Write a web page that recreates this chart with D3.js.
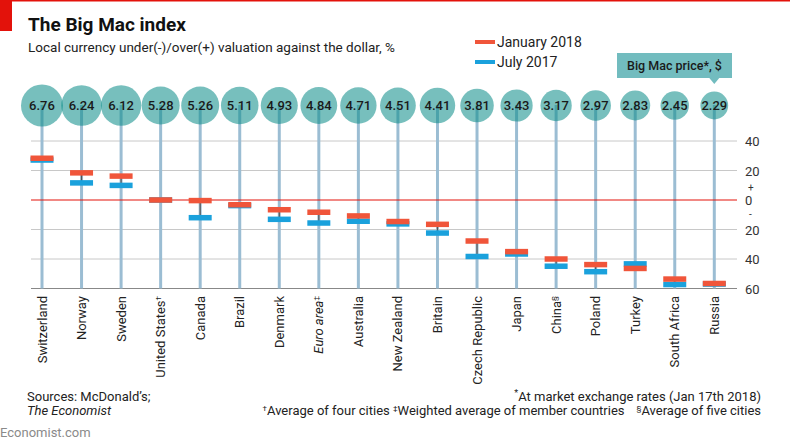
<!DOCTYPE html>
<html><head><meta charset="utf-8">
<script src="https://cdn.jsdelivr.net/npm/d3@7"></script>
<style>
body{margin:0;background:#fff;}
svg{display:block;font-family:Roboto,"Noto Sans",sans-serif;}
</style></head>
<body>
<svg id="chart" width="790" height="445"></svg>
<script>
const countries = ["Switzerland","Norway","Sweden","United States","Canada","Brazil","Denmark","Euro area","Australia","New Zealand","Britain","Czech Republic","Japan","China","Poland","Turkey","South Africa","Russia"];
const labelMarks = ["","","","†","","","","‡","","","","","","§","","","",""];
const prices = [6.76,6.24,6.12,5.28,5.26,5.11,4.93,4.84,4.71,4.51,4.41,3.81,3.43,3.17,2.97,2.83,2.45,2.29];
const jan2018 = [28.3,18.4,16.2,0,-0.4,-3.2,-6.6,-8.3,-10.8,-14.6,-16.5,-27.8,-35.0,-40.0,-43.8,-46.4,-53.6,-56.6];
const jul2017 = [27.1,11.6,9.9,0,-12.0,-3.8,-13.1,-15.6,-14.4,-16.2,-22.4,-38.3,-36.6,-44.9,-48.6,-43.3,-57.3,-57.0];
const yTicks = [40,20,0,-20,-40,-60];

const svg = d3.select("#chart");
const RED = "#e3120b", JAN = "#f0553a", JUL = "#1aa1dc";

const x = d3.scalePoint().domain(countries).range([42, 714.3]);
const y = d3.scaleLinear().domain([-60, 40]).range([288.5, 141]);
const r = d3.scaleSqrt().domain([0, 6.76]).range([4, 21]);

// top brand elements
svg.append("rect").attr("x",0).attr("y",0).attr("width",790).attr("height",1.5).attr("fill",RED);
svg.append("rect").attr("x",0).attr("y",0).attr("width",12).attr("height",31).attr("fill",RED);

svg.append("text").attr("x",28).attr("y",31).attr("font-size",19).attr("font-weight",700).attr("fill","#111").text("The Big Mac index");
svg.append("text").attr("x",28).attr("y",52).attr("font-size",13.5).attr("fill","#222").text("Local currency under(-)/over(+) valuation against the dollar, %");

// legend
const leg = [{t:"January 2018", c:JAN, y:42},{t:"July 2017", c:JUL, y:62}];
leg.forEach(d=>{
  svg.append("rect").attr("x",475).attr("y",d.y-2).attr("width",20).attr("height",4).attr("fill",d.c);
  svg.append("text").attr("x",497).attr("y",d.y+5).attr("font-size",14).attr("fill","#222").text(d.t);
});

// gridlines
const grid = svg.append("g");
yTicks.forEach(t=>{
  if (t===0) return;
  grid.append("line").attr("x1",31).attr("x2",737).attr("y1",y(t)).attr("y2",y(t))
    .attr("stroke", t===-60 ? "#888" : "#c8c8c8").attr("stroke-width",1);
});

// axis labels on right
const axis = d3.axisRight(y).tickValues(yTicks).tickSize(0).tickPadding(0).tickFormat(d=>Math.abs(d));
const ag = svg.append("g").attr("transform","translate(745,0)").call(axis);
ag.select(".domain").remove();
ag.selectAll("text").attr("font-size",13).attr("fill","#333").attr("font-family","Roboto,sans-serif").attr("dy","0.35em");
svg.append("text").attr("x",748).attr("y",y(0)-9.5).attr("font-size",10).attr("fill","#333").text("+");
svg.append("text").attr("x",749).attr("y",y(0)+17.5).attr("font-size",10).attr("fill","#333").text("-");

// stems
svg.append("g").selectAll("line").data(countries).join("line")
  .attr("x1",d=>x(d)).attr("x2",d=>x(d)).attr("y1",105).attr("y2",y(-60))
  .attr("stroke","#9bbdd3").attr("stroke-width",3);

// zero line
svg.append("line").attr("x1",31).attr("x2",737).attr("y1",y(0)).attr("y2",y(0)).attr("stroke",RED).attr("stroke-width",1);

// connectors
svg.append("g").selectAll("line").data(countries).join("line")
  .attr("x1",d=>x(d)).attr("x2",d=>x(d))
  .attr("y1",(d,i)=>y(jan2018[i])).attr("y2",(d,i)=>y(jul2017[i]))
  .attr("stroke","#555").attr("stroke-width",1.2);

// markers
const mw = 23, mh = 5.5;
svg.append("g").selectAll("rect").data(countries).join("rect")
  .attr("x",d=>x(d)-mw/2).attr("y",(d,i)=>y(jul2017[i])-mh/2).attr("width",mw).attr("height",mh).attr("fill",JUL);
svg.append("g").selectAll("rect").data(countries).join("rect")
  .attr("x",d=>x(d)-mw/2).attr("y",(d,i)=>y(jan2018[i])-mh/2).attr("width",mw).attr("height",mh).attr("fill",JAN);

// circles
const cg = svg.append("g");
cg.selectAll("circle").data(countries).join("circle")
  .attr("cx",d=>x(d)).attr("cy",105.5).attr("r",(d,i)=>r(prices[i]))
  .attr("fill","#0d8d8a").attr("fill-opacity",0.56);
cg.selectAll("text").data(countries).join("text")
  .attr("x",d=>x(d)).attr("y",105.5).attr("dy","0.35em").attr("text-anchor","middle")
  .attr("font-size",13).attr("font-weight",500).attr("fill","#1a1a1a")
  .text((d,i)=>prices[i].toFixed(2));

// price callout box
const bx = x("Russia");
svg.append("rect").attr("x",617).attr("y",53).attr("width",115).attr("height",25).attr("fill","#72bcbf");
svg.append("path").attr("d",`M${bx-5},78 L${bx+5},78 L${bx},84 Z`).attr("fill","#72bcbf");
svg.append("text").attr("x",674.5).attr("y",70).attr("text-anchor","middle").attr("font-size",12.5).attr("font-weight",500).attr("fill","#1a1a1a").text("Big Mac price*, $");

// country labels
const lg = svg.append("g");
countries.forEach((c,i)=>{
  const t = lg.append("text").attr("transform",`translate(${x(c)},296) rotate(-90)`)
    .attr("text-anchor","end").attr("dy","0.35em").attr("font-size",13).attr("fill","#222");
  if (c==="Euro area") {
    t.append("tspan").attr("font-style","italic").text(c);
  } else {
    t.append("tspan").text(c);
  }
  if (labelMarks[i]) t.append("tspan").attr("font-size",8).attr("baseline-shift","super").text(labelMarks[i]);
});

// footer
svg.append("text").attr("x",27).attr("y",401).attr("font-size",13).attr("fill","#222").text("Sources: McDonald’s;");
svg.append("text").attr("x",27).attr("y",415).attr("font-size",13).attr("font-style","italic").attr("fill","#222").text("The Economist");
svg.append("text").attr("x",0).attr("y",437).attr("font-size",13).attr("fill","#8a8a8a").text("Economist.com");

const f1 = svg.append("text").attr("x",761).attr("y",401).attr("text-anchor","end").attr("font-size",13).attr("fill","#222");
f1.append("tspan").attr("font-size",9).attr("baseline-shift","super").text("*");
f1.append("tspan").text("At market exchange rates (Jan 17th 2018)");
const f2 = svg.append("text").attr("x",761).attr("y",415).attr("text-anchor","end").attr("font-size",13).attr("fill","#222").attr("xml:space","preserve");
f2.append("tspan").attr("font-size",8).attr("baseline-shift","super").text("†");
f2.append("tspan").text("Average of four cities ");
f2.append("tspan").attr("font-size",8).attr("baseline-shift","super").text("‡");
f2.append("tspan").text("Weighted average of member countries");
f2.append("tspan").attr("dx",12).attr("font-size",8).attr("baseline-shift","super").text("§");
f2.append("tspan").text("Average of five cities");
</script>
</body></html>
